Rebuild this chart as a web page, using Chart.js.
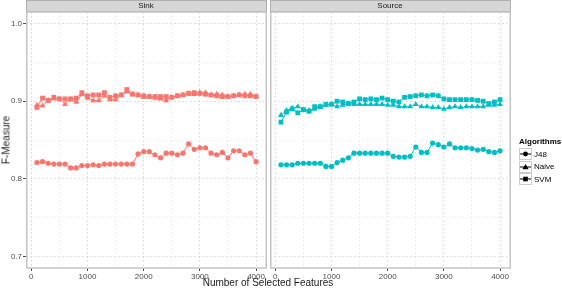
<!DOCTYPE html>
<html>
<head>
<meta charset="utf-8">
<script src="https://cdn.jsdelivr.net/npm/chart.js@4/dist/chart.umd.min.js"></script>
<style>
    body { margin: 0; background: #ffffff; font-family: "Liberation Sans", Arial, sans-serif; }
    #wrap { position: relative; width: 562px; height: 289px; overflow: hidden; }
    canvas { position: absolute; top: 0; }
    .txt { position: absolute; white-space: nowrap; color: #1a1a1a; }
    .strip { font-size: 8px; top: 1px; line-height: 10px; transform: translateX(-50%); }
    #xtitle { font-size: 10px; left: 268px; top: 277px; line-height: 12px; transform: translateX(-50%); }
    #ytitle { font-size: 10px; left: 6px; top: 140px; transform: translate(-50%, -50%) rotate(-90deg); }
    #legend { position: absolute; left: 519px; top: 137px; font-size: 8px; }
    #legend .title { font-weight: bold; margin-bottom: 2px; }
    #legend .row { display: flex; align-items: center; height: 12.5px; }
    #legend svg { display: block; margin-right: 2px; }
</style>
</head>
<body>
<div id="wrap">
    <canvas id="sink-chart" width="268" height="289" style="left:0px"></canvas>
    <canvas id="source-chart" width="294" height="289" style="left:268px"></canvas>
    <div class="txt strip" style="left:146px">Sink</div>
    <div class="txt strip" style="left:390px">Source</div>
    <div class="txt" id="xtitle">Number of Selected Features</div>
    <div class="txt" id="ytitle">F-Measure</div>
    <div id="legend"></div>
</div>
<script>
// Data
const features = [100, 200, 300, 400, 500, 600, 700, 800, 900, 1000,
    1100, 1200, 1300, 1400, 1500, 1600, 1700, 1800, 1900, 2000,
    2100, 2200, 2300, 2400, 2500, 2600, 2700, 2800, 2900, 3000,
    3100, 3200, 3300, 3400, 3500, 3600, 3700, 3800, 3900, 4000];

const sinkJ48 = [0.821, 0.822, 0.820, 0.819, 0.819, 0.819, 0.814, 0.814, 0.817, 0.817,
    0.818, 0.817, 0.819, 0.819, 0.819, 0.819, 0.819, 0.819, 0.832, 0.835,
    0.835, 0.831, 0.827, 0.833, 0.833, 0.831, 0.833, 0.845, 0.838, 0.840,
    0.840, 0.833, 0.831, 0.834, 0.827, 0.836, 0.836, 0.831, 0.833, 0.822];
const sinkNaive = [0.895, 0.894, 0.901, 0.903, 0.903, 0.896, 0.902, 0.899, 0.909, 0.904,
    0.901, 0.901, 0.907, 0.902, 0.902, 0.908, 0.912, 0.909, 0.908, 0.905,
    0.906, 0.904, 0.903, 0.901, 0.905, 0.907, 0.908, 0.910, 0.909, 0.911,
    0.911, 0.908, 0.909, 0.908, 0.906, 0.907, 0.908, 0.909, 0.909, 0.906];
const sinkSVM = [0.892, 0.904, 0.901, 0.905, 0.903, 0.903, 0.903, 0.904, 0.911, 0.907,
    0.908, 0.908, 0.911, 0.905, 0.907, 0.908, 0.915, 0.909, 0.908, 0.907,
    0.906, 0.906, 0.906, 0.906, 0.905, 0.907, 0.908, 0.910, 0.911, 0.910,
    0.909, 0.908, 0.907, 0.906, 0.906, 0.907, 0.908, 0.907, 0.907, 0.906];

const sourceJ48 = [0.818, 0.818, 0.818, 0.820, 0.820, 0.820, 0.820, 0.820, 0.816, 0.816,
    0.821, 0.824, 0.827, 0.833, 0.833, 0.833, 0.833, 0.833, 0.833, 0.833,
    0.829, 0.828, 0.828, 0.829, 0.841, 0.834, 0.834, 0.846, 0.844, 0.841,
    0.845, 0.840, 0.840, 0.840, 0.839, 0.837, 0.838, 0.835, 0.834, 0.836];
const sourceNaive = [0.882, 0.888, 0.891, 0.893, 0.889, 0.888, 0.890, 0.893, 0.895, 0.896,
    0.893, 0.895, 0.897, 0.896, 0.896, 0.896, 0.896, 0.896, 0.896, 0.895,
    0.895, 0.893, 0.893, 0.893, 0.896, 0.893, 0.893, 0.892, 0.892, 0.890,
    0.892, 0.893, 0.892, 0.893, 0.893, 0.893, 0.893, 0.895, 0.895, 0.896];
const sourceSVM = [0.873, 0.886, 0.890, 0.885, 0.889, 0.887, 0.893, 0.893, 0.896, 0.896,
    0.900, 0.899, 0.897, 0.899, 0.903, 0.902, 0.903, 0.902, 0.904, 0.902,
    0.900, 0.899, 0.905, 0.906, 0.907, 0.908, 0.907, 0.908, 0.907, 0.903,
    0.902, 0.902, 0.902, 0.902, 0.902, 0.901, 0.900, 0.897, 0.899, 0.902];

const algorithms = ['J48', 'Naive', 'SVM'];
const xMajor = [0, 1000, 2000, 3000, 4000];
const xMinor = [500, 1500, 2500, 3500];
const yMajor = [0.7, 0.8, 0.9, 1.0];
const yMinor = [0.75, 0.85, 0.95];

// Style settings
const colors = {
    sink: '#F8766D',
    source: '#00BFC4',
    gridMajor: '#dedede',
    gridMinor: '#efefef',
    tick: '#4d4d4d',
    border: '#c4c4c4',
    strip: '#d6d6d6',
    stripBorder: '#b0b0b0'
};
const shapes = { J48: 'circle', Naive: 'triangle', SVM: 'rect' };
const radii = { J48: 2.6, Naive: 3.4, SVM: 3.4 };
const drawOrder = { J48: 2, Naive: 1, SVM: 0 };

function isIn(list, v) {
    return list.some(m => Math.abs(m - v) < 1e-9);
}

function makeDataset(name, values, color) {
    return {
        label: name,
        data: features.map((f, i) => ({ x: f, y: values[i] })),
        borderColor: color,
        backgroundColor: color,
        borderWidth: 1,
        pointStyle: shapes[name],
        pointRadius: radii[name],
        pointBorderWidth: 0,
        pointBackgroundColor: color,
        order: drawOrder[name],
        tension: 0
    };
}

// panel border + facet strip
const panelPlugin = {
    id: 'panel',
    afterDraw(chart) {
        const a = chart.chartArea;
        const ctx = chart.ctx;
        ctx.save();
        ctx.fillStyle = colors.strip;
        ctx.fillRect(a.left, 0.5, a.right - a.left, 11);
        ctx.strokeStyle = colors.stripBorder;
        ctx.lineWidth = 1;
        ctx.strokeRect(a.left + 0.5, 0.5, a.right - a.left - 1, 11);
        ctx.strokeStyle = colors.border;
        ctx.lineWidth = 1.5;
        ctx.strokeRect(a.left + 0.75, a.top, a.right - a.left - 1.5, a.bottom - a.top);
        ctx.restore();
    }
};

function createPanel(ctx, series, color, showY, rightPad) {
    return new Chart(ctx, {
        type: 'line',
        data: {
            datasets: algorithms.map((name, i) => makeDataset(name, series[i], color))
        },
        options: {
            responsive: false,
            animation: false,
            layout: {
                autoPadding: false,
                padding: { top: 12, right: rightPad, left: 0, bottom: 0 }
            },
            plugins: { legend: { display: false }, tooltip: { enabled: false } },
            scales: {
                x: {
                    type: 'linear',
                    min: -95,
                    max: 4195,
                    afterBuildTicks: scale => {
                        scale.ticks = xMajor.concat(xMinor).sort((a, b) => a - b).map(v => ({ value: v }));
                    },
                    afterFit: scale => {
                        scale.height = 21;
                        scale.paddingLeft = 0;
                        scale.paddingRight = 0;
                    },
                    border: { display: false, dash: [2, 2] },
                    grid: {
                        color: c => isIn(xMajor, c.tick.value) ? colors.gridMajor : colors.gridMinor,
                        tickColor: c => isIn(xMajor, c.tick.value) ? colors.tick : 'rgba(0,0,0,0)',
                        tickLength: 3,
                        lineWidth: 1
                    },
                    ticks: {
                        autoSkip: false,
                        maxRotation: 0,
                        padding: 1,
                        color: colors.tick,
                        font: { family: '"Liberation Sans", Arial, sans-serif', size: 8 },
                        callback: v => isIn(xMajor, v) ? String(v) : ''
                    }
                },
                y: {
                    min: 0.685,
                    max: 1.015,
                    afterBuildTicks: scale => {
                        scale.ticks = yMajor.concat(yMinor).sort((a, b) => a - b).map(v => ({ value: v }));
                    },
                    afterFit: scale => {
                        scale.width = showY ? 26 : 2;
                        scale.paddingTop = 0;
                        scale.paddingBottom = 0;
                    },
                    border: { display: false, dash: [2, 2] },
                    grid: {
                        color: c => isIn(yMajor, c.tick.value) ? colors.gridMajor : colors.gridMinor,
                        tickColor: c => isIn(yMajor, c.tick.value) ? colors.tick : 'rgba(0,0,0,0)',
                        drawTicks: showY,
                        tickLength: 3,
                        lineWidth: 1
                    },
                    ticks: {
                        display: showY,
                        padding: 1,
                        color: colors.tick,
                        font: { family: '"Liberation Sans", Arial, sans-serif', size: 8 },
                        callback: v => isIn(yMajor, v) ? v.toFixed(1) : ''
                    }
                }
            }
        },
        plugins: [panelPlugin]
    });
}

function buildLegend() {
    const box = document.getElementById('legend');
    const marks = {
        J48: '<circle cx="6.5" cy="6" r="2.4" fill="#000"/>',
        Naive: '<polygon points="6.5,3 9.6,8.2 3.4,8.2" fill="#000"/>',
        SVM: '<rect x="4.2" y="3.7" width="4.6" height="4.6" fill="#000"/>'
    };
    let html = '<div class="title">Algorithms</div>';
    algorithms.forEach(name => {
        html += '<div class="row"><svg width="13" height="12">' +
            '<rect x="0.5" y="0.5" width="12" height="11" fill="#fff" stroke="#cccccc"/>' +
            '<line x1="1" y1="6" x2="12" y2="6" stroke="#000" stroke-width="1"/>' +
            marks[name] + '</svg><span>' + name + '</span></div>';
    });
    box.innerHTML = html;
}

createPanel(document.getElementById('sink-chart'), [sinkJ48, sinkNaive, sinkSVM], colors.sink, true, 1);
createPanel(document.getElementById('source-chart'), [sourceJ48, sourceNaive, sourceSVM], colors.source, false, 51);
buildLegend();
</script>
</body>
</html>
